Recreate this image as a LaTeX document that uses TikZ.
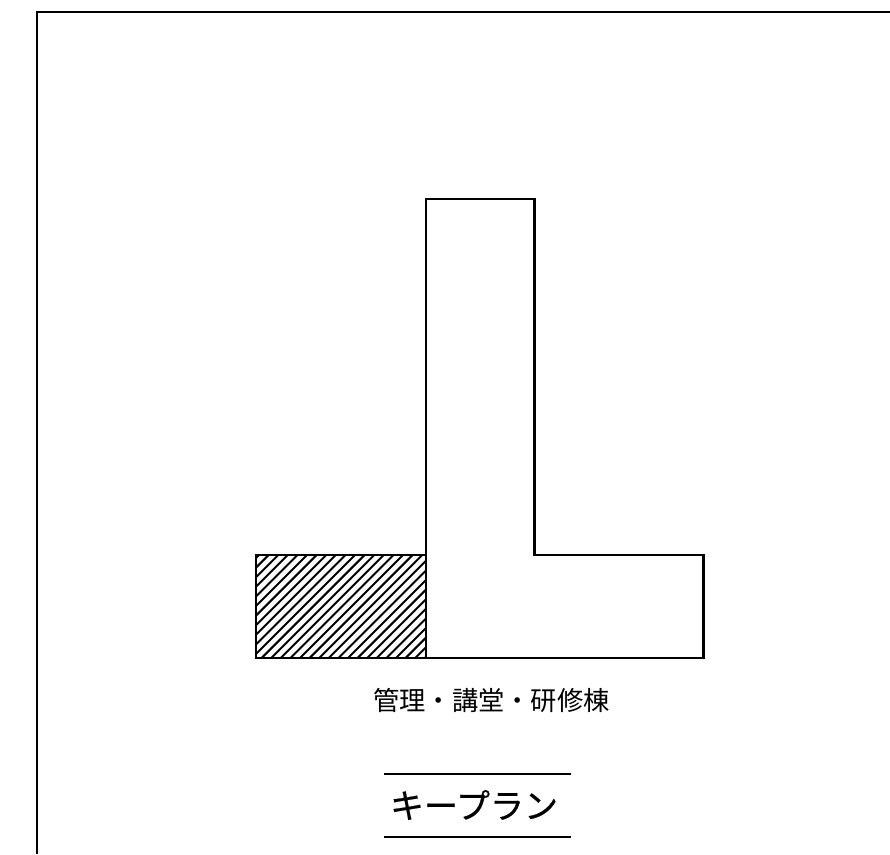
\documentclass[tikz,border=0pt]{standalone}
\usepackage{fontspec}
\newfontfamily\cjk{Noto Sans CJK JP}
\newfontfamily\cjkheavy[FakeBold=0.6]{Noto Sans CJK JP}
\tikzset{
  plan/.style={draw=black,line width=2.2pt,line join=miter},
  hatchline/.style={draw=black,line width=2pt},
  rulesty/.style={draw=black,line width=2pt},
  caption/.style={inner sep=0pt,font=\cjk\fontsize{26.3}{26.3}\selectfont},
  titletext/.style={inner sep=0pt,font=\cjkheavy\fontsize{34}{34}\selectfont}
}
\begin{document}
\begin{tikzpicture}[x=1pt,y=-1pt]
\useasboundingbox (0,0) rectangle (890,854);
\fill[white] (0,0) rectangle (890,854);
% hatching
\begin{scope}
\clip (256,555) rectangle (426,658);
\foreach \s in {3,12.6,...,290}{
  \draw[hatchline] (256+\s-103,658) -- (256+\s,555);
}
\end{scope}
% outline
\draw[plan] (426,555) -- (426,199) -- (534.5,199) -- (534.5,555) -- (703.5,555) -- (703.5,658) -- (256,658) -- (256,555) -- cycle;
\draw[plan] (426,555) -- (426,658);
% frame
\draw[plan] (37,854) -- (37,12) -- (890,12);
% labels
\node[caption] (cap) at (491.5,700) {管理・講堂・研修棟};
\node[titletext] (ttl) at (474,805) {キープラン};
\coordinate (rl1) at (384,773.5);
\coordinate (rr1) at (571,773.5);
\coordinate (rl2) at (384,837);
\coordinate (rr2) at (571,837);
\draw[rulesty] (rl1) -- (rr1);
\draw[rulesty] (rl2) -- (rr2);
\end{tikzpicture}
\end{document}
